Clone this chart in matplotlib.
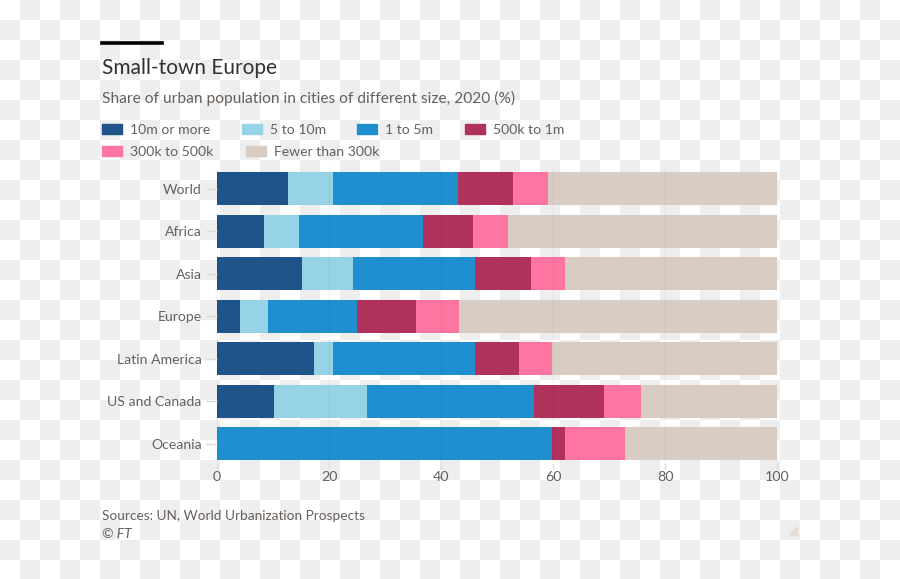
import matplotlib
matplotlib.use("Agg")
import matplotlib.pyplot as plt
import numpy as np
from matplotlib.patches import Rectangle, Polygon
from matplotlib.lines import Line2D

regions = ["World", "Africa", "Asia", "Europe", "Latin America", "US and Canada", "Oceania"]
size_classes = ["10m or more", "5 to 10m", "1 to 5m", "500k to 1m", "300k to 500k", "Fewer than 300k"]

# shares (%)
ten_m_plus   = [12.7, 8.4, 15.1, 4.1, 17.4, 10.1, 0.0]
five_to_ten  = [8.0, 6.3, 9.1, 5.0, 3.3, 16.7, 0.0]
one_to_five  = [22.3, 22.0, 21.9, 15.9, 25.4, 29.8, 59.8]
half_to_one  = [9.8, 9.0, 10.0, 10.5, 7.8, 12.5, 2.3]
k300_to_500  = [6.3, 6.2, 6.1, 7.8, 5.9, 6.7, 10.8]
below_300k   = [41.2, 48.1, 37.8, 56.7, 40.2, 24.2, 27.1]

COLORS = ["#1e5489", "#96d3e6", "#1f8fcf", "#b0315b", "#ff75a1", "#d9ccc2"]
TEXT = "#66605c"

fig = plt.figure(figsize=(9, 5.79), dpi=100)

# transparent-background checkerboard as seen in the reference
h, w = 579, 900
rr, cc = np.mgrid[0:h, 0:w]
board = np.where(((rr // 20) + (cc // 20)) % 2 == 1, 0.937, 1.0)
fig.figimage(np.dstack([board, board, board]), 0, 0, origin="upper", zorder=0)

ax = fig.add_axes([217 / 900, 1 - 463 / 579, 560 / 900, 297.5 / 579])
ax.set_facecolor("none")
ax.set_zorder(2)

series = [ten_m_plus, five_to_ten, one_to_five, half_to_one, k300_to_500, below_300k]
y = np.arange(len(regions))
left = np.zeros(len(regions))
for vals, col in zip(series, COLORS):
    ax.barh(y, vals, left=left, height=0.78, color=col, edgecolor="none", zorder=2)
    left += np.array(vals)

ax.set_xlim(0, 100)
ax.set_ylim(6.45, -0.55)
ax.set_xticks([0, 20, 40, 60, 80, 100])
ax.set_yticks(y)
ax.set_yticklabels(regions)
ax.grid(axis="x", color="#000000", alpha=0.04, lw=1, zorder=3)
ax.set_axisbelow(False)
for s in ax.spines.values():
    s.set_visible(False)
ax.tick_params(axis="y", length=8, width=1, color="#e2dad2", pad=3,
               labelsize=10.1, labelcolor=TEXT)
ax.tick_params(axis="x", length=4, width=1, color="#e2dad2", pad=2,
               labelsize=10.3, labelcolor=TEXT)
for lab in ax.get_xticklabels() + ax.get_yticklabels():
    lab.set_family("Lato")

# header
fig.add_artist(Line2D([102 / 900, 162 / 900], [1 - 43 / 579] * 2, color="#000000", lw=2.6))
fig.text(102 / 900, 1 - 74 / 579, "Small-town Europe", fontsize=15, family="Lato",
         color="#33302e", va="baseline")
fig.text(102 / 900, 1 - 103 / 579,
         "Share of urban population in cities of different size, 2020 (%)",
         fontsize=11.2, family="Lato", color=TEXT, va="baseline")

# legend
legend_pos = [(102, 129), (242, 129), (357, 129), (465, 129), (102, 151), (246, 151)]
for (lx, ly), name, col in zip(legend_pos, size_classes, COLORS):
    fig.add_artist(Rectangle((lx / 900, 1 - (ly + 5) / 579), 20 / 900, 10 / 579,
                             color=col, transform=fig.transFigure))
    fig.text((lx + 28) / 900, 1 - (ly + 1) / 579, name, fontsize=10.1, family="Lato",
             color=TEXT, va="center")

# footer
fig.text(102 / 900, 1 - 520 / 579, "Sources: UN, World Urbanization Prospects",
         fontsize=9.8, family="Lato", color=TEXT, va="baseline")
fig.text(102 / 900, 1 - 538 / 579, "© FT", fontsize=10, style="italic",
         family="Lato", color=TEXT, va="baseline")
fig.add_artist(Polygon([(789 / 900, 1 - 535 / 579), (797 / 900, 1 - 535 / 579),
                        (797 / 900, 1 - 526 / 579)], closed=True,
                       color="#e8ddd4", transform=fig.transFigure))

fig.savefig("out.png", dpi=100)
